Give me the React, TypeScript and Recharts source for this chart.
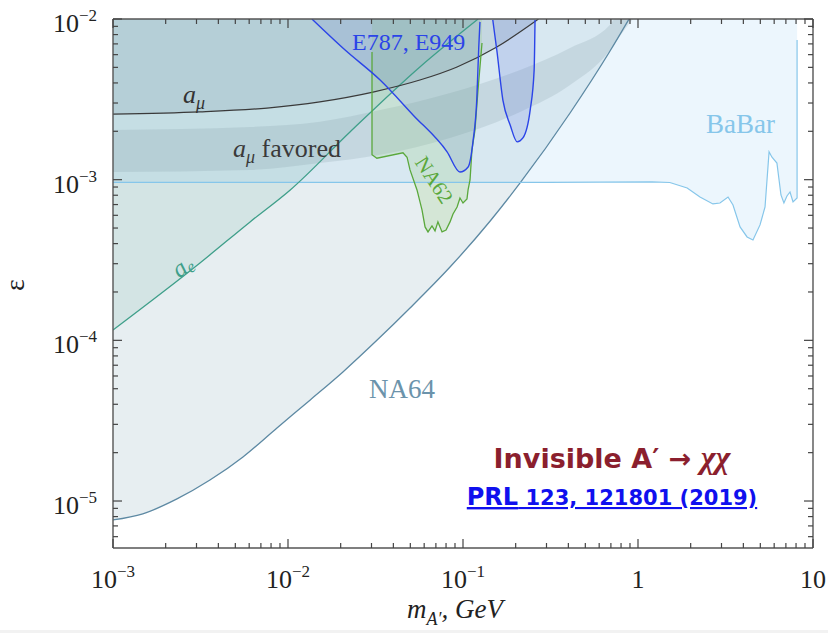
import React from 'react';
import { ComposedChart, Area, Line, XAxis, YAxis } from 'recharts';

const M_MIN = 0.001;
const M_MAX = 10;
const EPS_MIN = 5.1e-6;
const EPS_TOP = 0.01;

// NA64 (invisible mode) exclusion edge
const na64Mass = [0.001, 0.00148, 0.00232, 0.00358, 0.00553, 0.00865, 0.0134, 0.0206, 0.0322, 0.0498, 0.0843, 0.143, 0.212, 0.409, 0.692, 0.889];
const na64Eps = [7.62e-6, 8.32e-6, 1.03e-5, 1.35e-5, 1.88e-5, 2.85e-5, 4.26e-5, 6.36e-5, 1.0e-4, 1.59e-4, 2.86e-4, 5.53e-4, 9.54e-4, 2.6e-3, 6.32e-3, 1.0e-2];

// BaBar mono-photon
const babarMass = [0.001, 0.3, 1.2, 1.52, 1.91, 2.26, 2.68, 2.94, 3.27, 3.49, 3.83, 4.2, 4.54, 4.98, 5.32, 5.61, 5.83, 6.22, 6.56, 6.82, 7.1, 7.39, 7.69, 8.11];
const babarEps = [9.63e-4, 9.63e-4, 9.7e-4, 9.6e-4, 8.88e-4, 7.8e-4, 7.06e-4, 7.16e-4, 7.8e-4, 6.96e-4, 5.08e-4, 4.4e-4, 4.21e-4, 5.23e-4, 6.76e-4, 1.49e-3, 1.38e-3, 1.27e-3, 8.03e-4, 7.16e-4, 7.92e-4, 8.38e-4, 7.27e-4, 7.69e-4];
const babarCutEps = 7.4e-3;

// a_e
const aeMass = [0.001, 0.00314, 0.00607, 0.0103, 0.0226, 0.0567, 0.122];
const aeEps = [1.16e-4, 3.03e-4, 5.46e-4, 8.63e-4, 1.98e-3, 5.03e-3, 1.0e-2];

// a_mu
const amuMass = [0.001, 0.00314, 0.00759, 0.0152, 0.0306, 0.0567, 0.0925, 0.156, 0.27];
const amuEps = [2.56e-3, 2.64e-3, 2.79e-3, 3.05e-3, 3.51e-3, 4.17e-3, 5.03e-3, 6.7e-3, 1.0e-2];

// a_mu favored band
const bandMass = [0.001, 0.00607, 0.0152, 0.0336, 0.0843, 0.212, 0.409, 0.692, 0.739, 0.935];
const bandLow = [1.117e-3, 1.15e-3, 1.27e-3, 1.43e-3, 1.82e-3, 2.64e-3, 3.88e-3, 6.41e-3, 7.1e-3, 1.0e-2];
const bandHigh = [2.04e-3, 2.13e-3, 2.29e-3, 2.71e-3, 3.46e-3, 4.82e-3, 6.6e-3, 9.2e-3, 1.0e-2, 1.0e-2];

// E787, E949
const e787Mass = [0.0137, 0.0212, 0.0336, 0.0518, 0.0811, 0.0961, 0.107, 0.114, 0.12, 0.123, 0.125];
const e787Eps = [1.0e-2, 6.41e-3, 4.17e-3, 2.53e-3, 1.49e-3, 1.117e-3, 1.2e-3, 1.72e-3, 3.22e-3, 6.6e-3, 9.6e-3];
const e949Mass = [0.148, 0.156, 0.169, 0.186, 0.204, 0.22, 0.242, 0.255, 0.258];
const e949Eps = [9.86e-3, 6.41e-3, 3.13e-3, 2.19e-3, 1.72e-3, 1.82e-3, 2.71e-3, 4.82e-3, 9.86e-3];

// NA62
const na62Mass = [0.0302, 0.0322, 0.0454, 0.0479, 0.0498, 0.0546, 0.0583, 0.0607, 0.0631, 0.0665, 0.0692, 0.0719, 0.0759, 0.08, 0.0843, 0.0877, 0.0925, 0.0961, 0.1, 0.1054, 0.1069, 0.1097, 0.1125, 0.1171, 0.1218, 0.1284];
const na62Eps = [1.43e-3, 1.36e-3, 1.47e-3, 1.38e-3, 1.15e-3, 8.63e-4, 6.48e-4, 5.08e-4, 4.73e-4, 5.15e-4, 4.8e-4, 5.46e-4, 4.73e-4, 4.86e-4, 5.46e-4, 6.12e-4, 6.76e-4, 7.69e-4, 7.16e-4, 7.59e-4, 8.63e-4, 9.96e-4, 1.53e-3, 2.04e-3, 3.61e-3, 7.09e-3];
const na62TopLeftEps = 6.23e-3;

// axis ticks
const xDecades = [0.001, 0.01, 0.1, 1, 10];
const xDecadeLabels = [['10', '−3'], ['10', '−2'], ['10', '−1'], ['1', ''], ['10', '']];
const yDecades = [1e-5, 1e-4, 1e-3, 1e-2];
const yDecadeLabels = [['10', '−5'], ['10', '−4'], ['10', '−3'], ['10', '−2']];
const minorSteps = [2, 3, 4, 5, 6, 7, 8, 9];

const withMinors = (decades: number[], lo: number, hi: number) => {
  const out: number[] = [];
  [decades[0] / 10, ...decades].forEach((d) => {
    out.push(d);
    minorSteps.forEach((k) => out.push(Number((d * k).toPrecision(6))));
  });
  return out.filter((v) => v >= lo * 0.999 && v <= hi * 1.001);
};
const xTicks = withMinors(xDecades, M_MIN, M_MAX);
const yTicks = withMinors(yDecades, EPS_MIN, EPS_TOP);

const rangeRows = (mass: number[], low: number[], high?: number[]) =>
  mass.map((m, i) => ({ m, range: [low[i], high ? high[i] : EPS_TOP] }));
const lineRows = (mass: number[], eps: number[]) => mass.map((m, i) => ({ m, eps: eps[i] }));

const SERIF = '"Liberation Serif", "DejaVu Serif", serif';

const decadeIndex = (list: number[], v: number) =>
  list.findIndex((d) => Math.abs(Math.log10(d) - Math.log10(v)) < 1e-6);

const TickLabel = ({ parts, x, y, anchor }: { parts: string[]; x: number; y: number; anchor: string }) => (
  <text x={x} y={y} textAnchor={anchor} fontFamily={SERIF} fontSize={26} fill="#222">
    {parts[0]}
    {parts[1] ? (
      <tspan dy={-11} fontSize={17}>
        {parts[1]}
      </tspan>
    ) : null}
  </text>
);

// plot frame edges (chart margins below put the plot box here)
const FRAME = { left: 113, right: 813, top: 19, bottom: 548 };

const makeTick = (side: 'bottom' | 'top' | 'left' | 'right') => (props: any) => {
  const { payload } = props;
  const v = payload.value;
  const list = side === 'bottom' || side === 'top' ? xDecades : yDecades;
  const idx = decadeIndex(list, v);
  const len = idx >= 0 ? 9 : 5;
  const x = side === 'left' ? FRAME.left : side === 'right' ? FRAME.right : props.x;
  const y = side === 'top' ? FRAME.top : side === 'bottom' ? FRAME.bottom : props.y;
  let line;
  if (side === 'bottom') line = <line x1={x} x2={x} y1={y} y2={y - len} stroke="#444" strokeWidth={1.2} />;
  else if (side === 'top') line = <line x1={x} x2={x} y1={y} y2={y + len} stroke="#444" strokeWidth={1.2} />;
  else if (side === 'left') line = <line x1={x} x2={x + len} y1={y} y2={y} stroke="#444" strokeWidth={1.2} />;
  else line = <line x1={x} x2={x - len} y1={y} y2={y} stroke="#444" strokeWidth={1.2} />;
  let label = null;
  if (idx >= 0 && side === 'bottom') label = <TickLabel parts={xDecadeLabels[idx]} x={x} y={y + 40} anchor="middle" />;
  if (idx >= 0 && side === 'left') label = <TickLabel parts={yDecadeLabels[idx]} x={x - 16} y={y + 13} anchor="end" />;
  return (
    <g>
      {line}
      {label}
    </g>
  );
};

const C = {
  na64: '#5d89a3',
  babar: '#86c6ea',
  ae: '#3f9f8a',
  amu: '#3a3a3a',
  e787: '#2b44e8',
  na62: '#5aa83c',
};

export default function App() {
  const axisLine = { stroke: '#555', strokeWidth: 1.4 };
  const common = {
    allowDataOverflow: true,
    interval: 0 as const,
    tickSize: 0,
    tickMargin: 0,
    tickLine: false,
    axisLine,
  };
  return (
    <div style={{ position: 'absolute', left: 0, top: 0, width: 828, height: 633, background: '#fff' }}>
      <ComposedChart width={828} height={633} margin={{ top: 18, right: 14, bottom: 84, left: 112 }}>
        <XAxis xAxisId="b" dataKey="m" type="number" scale="log" domain={[M_MIN, M_MAX]} ticks={xTicks} height={1} tick={makeTick('bottom')} {...common} />
        <XAxis xAxisId="t" orientation="top" dataKey="m" type="number" scale="log" domain={[M_MIN, M_MAX]} ticks={xTicks} height={1} tick={makeTick('top')} {...common} />
        <YAxis yAxisId="l" type="number" scale="log" domain={[EPS_MIN, EPS_TOP]} ticks={yTicks} width={1} tick={makeTick('left')} {...common} />
        <YAxis yAxisId="r" orientation="right" type="number" scale="log" domain={[EPS_MIN, EPS_TOP]} ticks={yTicks} width={1} tick={makeTick('right')} {...common} />

        {/* exclusion fills */}
        <Area xAxisId="b" yAxisId="l" data={rangeRows(na64Mass, na64Eps)} dataKey="range" type="monotone" stroke="none" fill="#6b93ab" fillOpacity={0.16} isAnimationActive={false} activeDot={false} />
        <Area xAxisId="b" yAxisId="l" data={rangeRows(babarMass, babarEps)} dataKey="range" type="linear" stroke="none" fill="#8ecbf2" fillOpacity={0.17} isAnimationActive={false} activeDot={false} />
        <Area xAxisId="b" yAxisId="l" data={rangeRows(aeMass, aeEps)} dataKey="range" type="monotone" stroke="none" fill="#3f9a88" fillOpacity={0.12} isAnimationActive={false} activeDot={false} />
        <Area xAxisId="b" yAxisId="l" data={rangeRows(amuMass, amuEps)} dataKey="range" type="monotone" stroke="none" fill="#6f8c9c" fillOpacity={0.18} isAnimationActive={false} activeDot={false} />
        <Area xAxisId="b" yAxisId="l" data={rangeRows(bandMass, bandLow, bandHigh)} dataKey="range" type="monotone" stroke="none" fill="#7e95a2" fillOpacity={0.2} isAnimationActive={false} activeDot={false} />
        <Area xAxisId="b" yAxisId="l" data={rangeRows(na62Mass, na62Eps)} dataKey="range" type="linear" stroke="none" fill="#8cc86c" fillOpacity={0.2} isAnimationActive={false} activeDot={false} />
        <Area xAxisId="b" yAxisId="l" data={rangeRows(e787Mass, e787Eps)} dataKey="range" type="monotone" stroke="none" fill="#4a66d8" fillOpacity={0.12} isAnimationActive={false} activeDot={false} />
        <Area xAxisId="b" yAxisId="l" data={rangeRows(e949Mass, e949Eps)} dataKey="range" type="monotone" stroke="none" fill="#4a66d8" fillOpacity={0.16} isAnimationActive={false} activeDot={false} />

        {/* boundaries */}
        <Line xAxisId="b" yAxisId="l" data={lineRows(na64Mass, na64Eps)} dataKey="eps" type="monotone" stroke={C.na64} strokeWidth={1.3} dot={false} isAnimationActive={false} />
        <Line xAxisId="b" yAxisId="l" data={[...lineRows(babarMass, babarEps), { m: babarMass[babarMass.length - 1], eps: babarCutEps }]} dataKey="eps" type="linear" stroke={C.babar} strokeWidth={1.2} dot={false} isAnimationActive={false} />
        <Line xAxisId="b" yAxisId="l" data={lineRows(aeMass, aeEps)} dataKey="eps" type="monotone" stroke={C.ae} strokeWidth={1.3} dot={false} isAnimationActive={false} />
        <Line xAxisId="b" yAxisId="l" data={lineRows(amuMass, amuEps)} dataKey="eps" type="monotone" stroke={C.amu} strokeWidth={1.2} dot={false} isAnimationActive={false} />
        <Line xAxisId="b" yAxisId="l" data={[{ m: na62Mass[0], eps: na62TopLeftEps }, ...lineRows(na62Mass, na62Eps)]} dataKey="eps" type="linear" stroke={C.na62} strokeWidth={1.3} dot={false} isAnimationActive={false} />
        <Line xAxisId="b" yAxisId="l" data={lineRows(e787Mass, e787Eps)} dataKey="eps" type="monotone" stroke={C.e787} strokeWidth={1.4} dot={false} isAnimationActive={false} />
        <Line xAxisId="b" yAxisId="l" data={lineRows(e949Mass, e949Eps)} dataKey="eps" type="monotone" stroke={C.e787} strokeWidth={1.4} dot={false} isAnimationActive={false} />
      </ComposedChart>

      <svg width={828} height={633} style={{ position: 'absolute', left: 0, top: 0, pointerEvents: 'none' }}>
        <text x={352} y={50} fontFamily={SERIF} fontSize={24} fill={C.e787}>E787, E949</text>
        <text x={183} y={103} fontFamily={SERIF} fontStyle="italic" fontSize={26} fill="#333">
          a<tspan dy={6} fontSize={18}>μ</tspan>
        </text>
        <text x={233} y={157} fontFamily={SERIF} fontSize={26} fill="#3a3a3a">
          <tspan fontStyle="italic">a</tspan>
          <tspan dy={6} fontSize={18} fontStyle="italic">μ</tspan>
          <tspan dy={-6}> favored</tspan>
        </text>
        <text x={434} y={187} transform="rotate(57 434 180)" textAnchor="middle" fontFamily={SERIF} fontSize={21} fill={C.na62}>NA62</text>
        <text x={183} y={274} transform="rotate(-37 183 267)" textAnchor="middle" fontFamily={SERIF} fontStyle="italic" fontSize={25} fill={C.ae}>
          a<tspan dy={3} fontSize={17}>e</tspan>
        </text>
        <text x={706} y={133} fontFamily={SERIF} fontSize={27} fill={C.babar}>BaBar</text>
        <text x={369} y={398} fontFamily={SERIF} fontSize={27} fill="#6b93ab">NA64</text>
        <text x={612} y={468} textAnchor="middle" fontFamily='"DejaVu Sans", sans-serif' fontWeight="bold" fontSize={27} fill="#8b1f2e">
          Invisible A′ → <tspan fontStyle="italic" fontFamily={SERIF} fontSize={32}>χχ</tspan>
        </text>
        <text x={612} y={505} textAnchor="middle" fontFamily='"DejaVu Sans", sans-serif' fontWeight="bold" fontSize={21} fill="#1010ee" textDecoration="underline">
          <tspan fontSize={24}>PRL</tspan> 123, 121801 (2019)
        </text>
        <text x={24} y={285} transform="rotate(-90 24 285)" textAnchor="middle" fontFamily={SERIF} fontSize={28} fill="#222">ε</text>
        <text x={407} y={618} fontFamily={SERIF} fontStyle="italic" fontSize={27} fill="#222">
          m<tspan dy={7} fontSize={18}>A′</tspan>
          <tspan dy={-7}>, GeV</tspan>
        </text>
      </svg>
      <div style={{ position: 'absolute', left: 0, top: 630, width: 828, height: 3, background: '#f2f2f2' }} />
    </div>
  );
}
